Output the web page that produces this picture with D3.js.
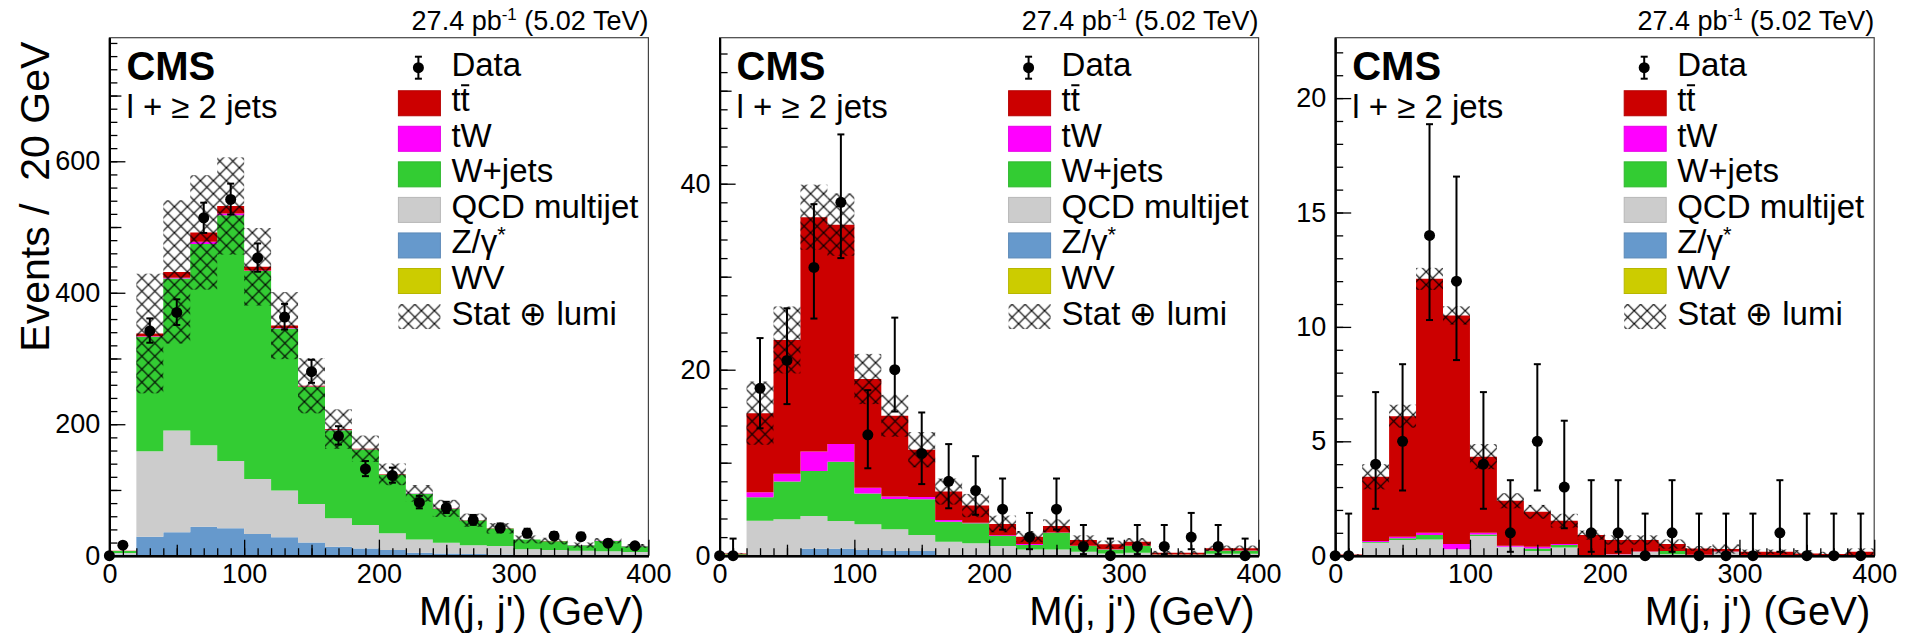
<!DOCTYPE html>
<html>
<head>
<meta charset="utf-8">
<script src="https://cdn.jsdelivr.net/npm/d3@7"></script>
<style>
  body { margin: 0; background: #fff; }
  svg text { font-family: 'Liberation Sans', Arial, Helvetica, sans-serif; fill: #000; }
</style>
</head>
<body>
<svg id="chart" width="1905" height="635"></svg>
<script>

// bin low edges (20 GeV bins) and data point positions
var binLow = [0, 20, 40, 60, 80, 100, 120, 140, 160, 180, 200, 220, 240, 260, 280, 300, 320, 340, 360, 380];
var dataX = [0, 10, 30, 50, 70, 90, 110, 130, 150, 170, 190, 210, 230, 250, 270, 290, 310, 330, 350, 370, 390];
var xTicks = [0, 100, 200, 300, 400];

// ---- panel 1 ----
var p1_z     = [2, 29, 35.5, 44, 41.6, 33, 28, 20, 13.7, 11, 8.6, 4.6, 3.5, 2.5, 2, 1.2, 1, 0.8, 0.6, 0.5];
var p1_qcd   = [2, 130, 155, 124, 102.4, 83.6, 71, 58.6, 43.1, 35.6, 25.4, 20.2, 16.3, 13.5, 12.7, 8.8, 7.6, 6.8, 6, 5.1];
var p1_wjets = [3, 174, 231, 306, 374, 316.4, 246.8, 178.4, 134.2, 115.1, 89, 69.5, 51.7, 37.5, 26.5, 14.5, 13.4, 8.4, 15.9, 8.9];
var p1_tw    = [0, 1, 1.2, 3.6, 2.7, 1, 0.7, 0.5, 0.5, 0.3, 0.3, 0.2, 0.2, 0.2, 0.2, 0.1, 0.1, 0.1, 0.1, 0.1];
var p1_tt    = [0.5, 4, 9, 14.2, 11.3, 5.5, 3.5, 1.1, 1.1, 0.7, 0.5, 0.3, 0.3, 0.3, 0.2, 0.2, 0.2, 0.1, 0.2, 0.1];
var p1_wv    = [0, 0, 0, 0, 0, 0, 0, 0, 0, 0, 0, 0, 0, 0, 0, 0, 0, 0, 0, 0];
var p1_unc   = [0, 91, 109, 87, 74, 59, 51, 42, 30, 20, 16.5, 12.7, 13, 10, 8, 6, 5, 4, 4, 3];
var p1_data  = [0, 16, 342, 370, 514, 542, 453, 363, 280, 182, 132, 122, 81, 73, 54, 42, 34, 30, 29, 19, 15];
var p1_lo    = [0, 12, 324, 351, 491, 519, 432, 344, 263, 169, 121, 111, 72, 65, 47, 36, 28, 25, 24, 15, 11];
var p1_hi    = [0, 20, 361, 390, 537, 566, 475, 383, 298, 197, 144, 134, 91, 82, 62, 49, 41, 36, 35, 24, 19];
var p1_yTicks = [0, 200, 400, 600];

// ---- panel 2 ----
var p2_z     = [0, 0.05, 0.05, 0.75, 0.75, 0.6, 0.5, 0.5, 0.1, 0.1, 0.05, 0.05, 0.05, 0.02, 0.02, 0.02, 0.01, 0.01, 0.01, 0.01];
var p2_qcd   = [0.05, 3.72, 3.86, 3.52, 2.98, 2.77, 2.34, 1.73, 1.4, 1.23, 0.99, 0.63, 0.63, 0.41, 0.23, 0.3, 0.09, 0.09, 0.19, 0.19];
var p2_wjets = [0.1, 2.51, 4.06, 4.85, 6.37, 3.33, 3.26, 3.84, 2.16, 2.15, 1.08, 0.47, 1.8, 0.61, 0.43, 0.72, 0.02, 0.02, 0.34, 0.34];
var p2_tw    = [0, 0.54, 0.83, 2.08, 1.9, 0.6, 0.26, 0.23, 0.18, 0.07, 0.08, 0.1, 0.02, 0.02, 0.02, 0.02, 0.01, 0.01, 0.01, 0.01];
var p2_tt    = [0.1, 8.51, 14.4, 25.2, 23.6, 11.7, 8.68, 5.1, 3.06, 1.84, 1.21, 0.8, 0.7, 0.63, 0.52, 0.44, 0.19, 0.19, 0.24, 0.24];
var p2_wv    = [0, 0, 0, 0, 0, 0, 0, 0, 0, 0, 0, 0, 0, 0, 0, 0, 0, 0, 0, 0];
var p2_unc   = [0.05, 3.4, 3.6, 3.5, 3.35, 2.7, 2.25, 1.9, 1.4, 1.25, 0.9, 0.6, 0.7, 0.5, 0.4, 0.4, 0.2, 0.2, 0.3, 0.3];
var p2_data  = [0, 0, 18, 21, 31, 38, 13, 20, 11, 8, 7, 5, 2, 5, 1, 0, 1, 1, 2, 1, 0];
var p2_lo    = [0, 0, 13.7, 16.3, 25.5, 32, 9.4, 15.5, 7.7, 5.1, 4.4, 2.8, 0.7, 2.8, 0.17, 0, 0.17, 0.17, 0.7, 0.17, 0];
var p2_hi    = [0, 1.84, 23.4, 26.6, 37.8, 45.3, 17.8, 25.6, 15.4, 12.0, 10.7, 8.3, 4.6, 8.3, 3.3, 1.84, 3.3, 3.3, 4.6, 3.3, 1.84];
var p2_yTicks = [0, 20, 40];

// ---- panel 3 ----
var p3_z     = [0, 0, 0, 0, 0, 0, 0, 0, 0, 0, 0, 0, 0, 0, 0, 0, 0, 0, 0, 0];
var p3_qcd   = [0, 0.57, 0.69, 0.71, 0.28, 0.86, 0.39, 0.2, 0.36, 0, 0.05, 0.17, 0.06, 0.03, 0.17, 0.02, 0.02, 0.02, 0, 0.02];
var p3_wjets = [0, 0.03, 0.07, 0.19, 0, 0.07, 0, 0.12, 0.11, 0, 0, 0, 0.14, 0, 0, 0, 0, 0, 0, 0];
var p3_tw    = [0, 0.04, 0.07, 0.1, 0.23, 0.07, 0.05, 0.07, 0.04, 0.02, 0.01, 0.01, 0.01, 0.01, 0.01, 0.01, 0.01, 0.01, 0.02, 0.01];
var p3_tt    = [0.05, 2.81, 5.27, 11.1, 9.99, 3.33, 1.96, 1.53, 1.02, 0.88, 0.63, 0.51, 0.3, 0.28, 0.11, 0.14, 0.14, 0.07, 0.05, 0.14];
var p3_wv    = [0, 0, 0, 0, 0, 0, 0, 0, 0, 0, 0, 0, 0, 0, 0, 0, 0, 0, 0, 0];
var p3_unc   = [0.02, 0.55, 0.5, 0.48, 0.4, 0.55, 0.33, 0.3, 0.3, 0.2, 0.2, 0.2, 0.2, 0.1, 0.2, 0.1, 0.1, 0.15, 0.1, 0.15];
var p3_data  = [0, 0, 4, 5, 14, 12, 4, 1, 5, 3, 1, 1, 0, 1, 0, 0, 0, 1, 0, 0, 0];
var p3_lo    = [0, 0, 2.05, 2.85, 10.3, 8.55, 2.05, 0.17, 2.85, 1.2, 0.17, 0.17, 0, 0.17, 0, 0, 0, 0.17, 0, 0, 0];
var p3_hi    = [0, 1.84, 7.15, 8.37, 18.86, 16.57, 7.15, 3.3, 8.37, 5.9, 3.3, 3.3, 1.84, 3.3, 1.84, 1.84, 1.84, 3.3, 1.84, 1.84, 1.84];
var p3_yTicks = [0, 5, 10, 15, 20];

// stack keys, bottom to top, and legend
var stackKeys = ["wv", "z", "qcd", "wjets", "tw", "tt"];
var colors = { tt: "#cc0000", tw: "#ff00ff", wjets: "#33cc33", qcd: "#cccccc", z: "#6699cc", wv: "#cccc00" };
var legendKeys = ["tt", "tw", "wjets", "qcd", "z", "wv"];

var FONT = "'Liberation Sans', Arial, Helvetica, sans-serif";
var plotTop = 37.7, plotH = 518, plotW = 539;

var panels = [
    { left: 109.4, ymax: 788, yTicks: p1_yTicks, minor: 20, mid: 100,
      comps: { wv: p1_wv, z: p1_z, qcd: p1_qcd, wjets: p1_wjets, tw: p1_tw, tt: p1_tt },
      unc: p1_unc, data: p1_data, lo: p1_lo, hi: p1_hi, ytitle: true },
    { left: 719.6, ymax: 55.7, yTicks: p2_yTicks, minor: 2, mid: 10,
      comps: { wv: p2_wv, z: p2_z, qcd: p2_qcd, wjets: p2_wjets, tw: p2_tw, tt: p2_tt },
      unc: p2_unc, data: p2_data, lo: p2_lo, hi: p2_hi },
    { left: 1335.2, ymax: 22.64, yTicks: p3_yTicks, minor: 1, mid: null,
      comps: { wv: p3_wv, z: p3_z, qcd: p3_qcd, wjets: p3_wjets, tw: p3_tw, tt: p3_tt },
      unc: p3_unc, data: p3_data, lo: p3_lo, hi: p3_hi }
];

var svg = d3.select("#chart");

// crosshatch pattern (ROOT 3013-like)
var defs = svg.append("defs");
var hatch = defs.append("pattern")
    .attr("id", "hatch")
    .attr("patternUnits", "userSpaceOnUse")
    .attr("width", 13).attr("height", 13);
hatch.append("path")
    .attr("d", "M0,0L13,13M13,0L0,13")
    .attr("stroke", "#000").attr("stroke-width", 1.2).attr("fill", "none");

panels.forEach(function(p, i) {
    var g = svg.append("g").attr("transform", "translate(" + p.left + "," + plotTop + ")");

    var x = d3.scaleLinear().domain([0, 400]).range([0, plotW]);
    var y = d3.scaleLinear().domain([0, p.ymax]).range([plotH, 0]);

    defs.append("clipPath").attr("id", "clip" + i)
        .append("rect").attr("width", plotW).attr("height", plotH);

    // stacked histogram
    var rows = binLow.map(function(lo, j) {
        var r = { lo: lo };
        stackKeys.forEach(function(k) { r[k] = p.comps[k][j]; });
        return r;
    });
    var layers = d3.stack().keys(stackKeys)(rows);

    var area = d3.area()
        .curve(d3.curveStepAfter)
        .x(function(d) { return x(d.lo); })
        .y0(function(d) { return y(d[0]); })
        .y1(function(d) { return y(d[1]); });

    var hist = g.append("g").attr("clip-path", "url(#clip" + i + ")");
    layers.forEach(function(layer) {
        var pts = layer.map(function(d, j) { var e = [d[0], d[1]]; e.lo = binLow[j]; return e; });
        var last = pts[pts.length - 1];
        var endPt = [last[0], last[1]]; endPt.lo = 400;
        pts.push(endPt);
        hist.append("path")
            .attr("d", area(pts))
            .attr("fill", colors[layer.key])
            .attr("stroke", "none");
    });

    // stat + lumi band
    var totals = rows.map(function(r) { return d3.sum(stackKeys, function(k) { return r[k]; }); });
    hist.selectAll("rect.band")
        .data(binLow)
        .enter().append("rect")
        .attr("class", "band")
        .attr("x", function(d) { return x(d); })
        .attr("width", function(d) { return x(d + 20) - x(d); })
        .attr("y", function(d, j) { return y(totals[j] + p.unc[j]); })
        .attr("height", function(d, j) { return y(Math.max(0, totals[j] - p.unc[j])) - y(totals[j] + p.unc[j]); })
        .attr("fill", "url(#hatch)");

    // frame
    g.append("rect")
        .attr("width", plotW).attr("height", plotH)
        .attr("fill", "none").attr("stroke", "#444").attr("stroke-width", 1.2);

    // axes (ticks pointing inward)
    var yMinor = d3.range(0, p.ymax, p.minor);
    var yMid = p.mid ? d3.range(p.mid, p.ymax, p.mid * 2) : [];
    g.append("g").call(d3.axisLeft(y).tickValues(yMinor).tickSize(-8).tickSizeOuter(0).tickFormat(""));
    if (yMid.length) g.append("g").call(d3.axisLeft(y).tickValues(yMid).tickSize(-12).tickSizeOuter(0).tickFormat(""));
    g.append("g").attr("class", "ylab")
        .call(d3.axisLeft(y).tickValues(p.yTicks).tickSize(-16).tickSizeOuter(0).tickPadding(9).tickFormat(d3.format("d")));

    var xMinor = d3.range(0, 400, 10);
    var xMid = d3.range(50, 400, 100);
    g.append("g").attr("transform", "translate(0," + plotH + ")")
        .call(d3.axisBottom(x).tickValues(xMinor).tickSize(-7.5).tickSizeOuter(0).tickFormat(""));
    g.append("g").attr("transform", "translate(0," + plotH + ")")
        .call(d3.axisBottom(x).tickValues(xMid).tickSize(-11).tickSizeOuter(0).tickFormat(""));
    g.append("g").attr("class", "xlab").attr("transform", "translate(0," + plotH + ")")
        .call(d3.axisBottom(x).tickValues(xTicks).tickSize(-16).tickSizeOuter(0).tickPadding(0).tickFormat(d3.format("d")));

    g.selectAll(".tick line").attr("stroke", "#000").attr("stroke-width", 1.3);
    g.selectAll(".domain").attr("stroke", "#000").attr("stroke-width", 2);
    g.selectAll(".ylab text").attr("font-size", 27).attr("font-family", FONT);
    g.selectAll(".xlab text").attr("font-size", 27).attr("font-family", FONT)
        .attr("dy", null).attr("y", 27);

    // data points with error bars
    var pts = g.append("g");
    dataX.forEach(function(xv, j) {
        var cx = x(xv);
        if (p.hi[j] > p.data[j]) {
            pts.append("line")
                .attr("x1", cx).attr("x2", cx)
                .attr("y1", y(p.hi[j])).attr("y2", y(p.lo[j]))
                .attr("stroke", "#000").attr("stroke-width", 2);
            pts.append("line")
                .attr("x1", cx - 3.5).attr("x2", cx + 3.5)
                .attr("y1", y(p.hi[j])).attr("y2", y(p.hi[j]))
                .attr("stroke", "#000").attr("stroke-width", 2);
            if (p.lo[j] > 0) {
                pts.append("line")
                    .attr("x1", cx - 3.5).attr("x2", cx + 3.5)
                    .attr("y1", y(p.lo[j])).attr("y2", y(p.lo[j]))
                    .attr("stroke", "#000").attr("stroke-width", 2);
            }
        }
        pts.append("circle")
            .attr("cx", cx).attr("cy", y(p.data[j]))
            .attr("r", 5.5).attr("fill", "#000");
    });

    // CMS labels
    g.append("text").attr("x", 17).attr("y", 42.5)
        .attr("font-size", 40).attr("font-weight", "bold").text("CMS");
    g.append("text").attr("x", 17).attr("y", 80.5)
        .attr("font-size", 33).text("l + \u2265 2 jets");

    // luminosity label
    var lum = g.append("text").attr("x", plotW).attr("y", -8)
        .attr("text-anchor", "end").attr("font-size", 27);
    lum.append("tspan").text("27.4 pb");
    lum.append("tspan").attr("font-size", 17).attr("dy", -10).text("-1");
    lum.append("tspan").attr("dy", 10).text(" (5.02 TeV)");

    // x axis title
    g.append("text").attr("x", plotW - 4).attr("y", 587)
        .attr("text-anchor", "end").attr("font-size", 40).text("M(j, j') (GeV)");

    // legend
    var lg = g.append("g");
    var rowY = function(k) { return 30 + k * 35.55; };
    var mx = 309;
    lg.append("line").attr("x1", mx).attr("x2", mx).attr("y1", rowY(0) - 11).attr("y2", rowY(0) + 11)
        .attr("stroke", "#000").attr("stroke-width", 2);
    lg.append("line").attr("x1", mx - 3.5).attr("x2", mx + 3.5).attr("y1", rowY(0) - 11).attr("y2", rowY(0) - 11)
        .attr("stroke", "#000").attr("stroke-width", 2);
    lg.append("line").attr("x1", mx - 3.5).attr("x2", mx + 3.5).attr("y1", rowY(0) + 11).attr("y2", rowY(0) + 11)
        .attr("stroke", "#000").attr("stroke-width", 2);
    lg.append("circle").attr("cx", mx).attr("cy", rowY(0)).attr("r", 5.5).attr("fill", "#000");
    lg.append("text").attr("x", 342).attr("y", rowY(0) + 8).attr("font-size", 33).text("Data");

    legendKeys.forEach(function(k, n) {
        var cy = rowY(n + 1);
        lg.append("rect").attr("x", 289).attr("y", cy - 12.5).attr("width", 42).attr("height", 25)
            .attr("fill", colors[k]).attr("stroke", d3.color(colors[k]).darker(0.3)).attr("stroke-width", 1);
        var t = lg.append("text").attr("x", 342).attr("y", cy + 8).attr("font-size", 33);
        if (k === "tt") {
            t.text("tt");
            var w1 = t.node().getSubStringLength(0, 1), w2 = t.node().getSubStringLength(1, 1);
            lg.append("line").attr("x1", 342 + w1 + 0.5).attr("x2", 342 + w1 + w2 - 0.5)
                .attr("y1", cy - 18).attr("y2", cy - 18).attr("stroke", "#000").attr("stroke-width", 2);
        } else if (k === "z") {
            t.append("tspan").text("Z/\u03b3");
            t.append("tspan").attr("font-size", 22).attr("dy", -11).text("*");
        } else {
            t.text({ tw: "tW", wjets: "W+jets", qcd: "QCD multijet", wv: "WV" }[k]);
        }
    });
    var sy = rowY(7);
    lg.append("rect").attr("x", 289).attr("y", sy - 12.5).attr("width", 42).attr("height", 25)
        .attr("fill", "url(#hatch)");
    lg.append("text").attr("x", 342).attr("y", sy + 8).attr("font-size", 33).text("Stat \u2295 lumi");

    // y axis title on first panel
    if (p.ytitle) {
        g.append("text")
            .attr("transform", "translate(-60,4) rotate(-90)")
            .attr("text-anchor", "end")
            .attr("font-size", 41)
            .attr("xml:space", "preserve")
            .style("white-space", "pre")
            .text("Events /  20 GeV");
    }
});
</script>
</body>
</html>
